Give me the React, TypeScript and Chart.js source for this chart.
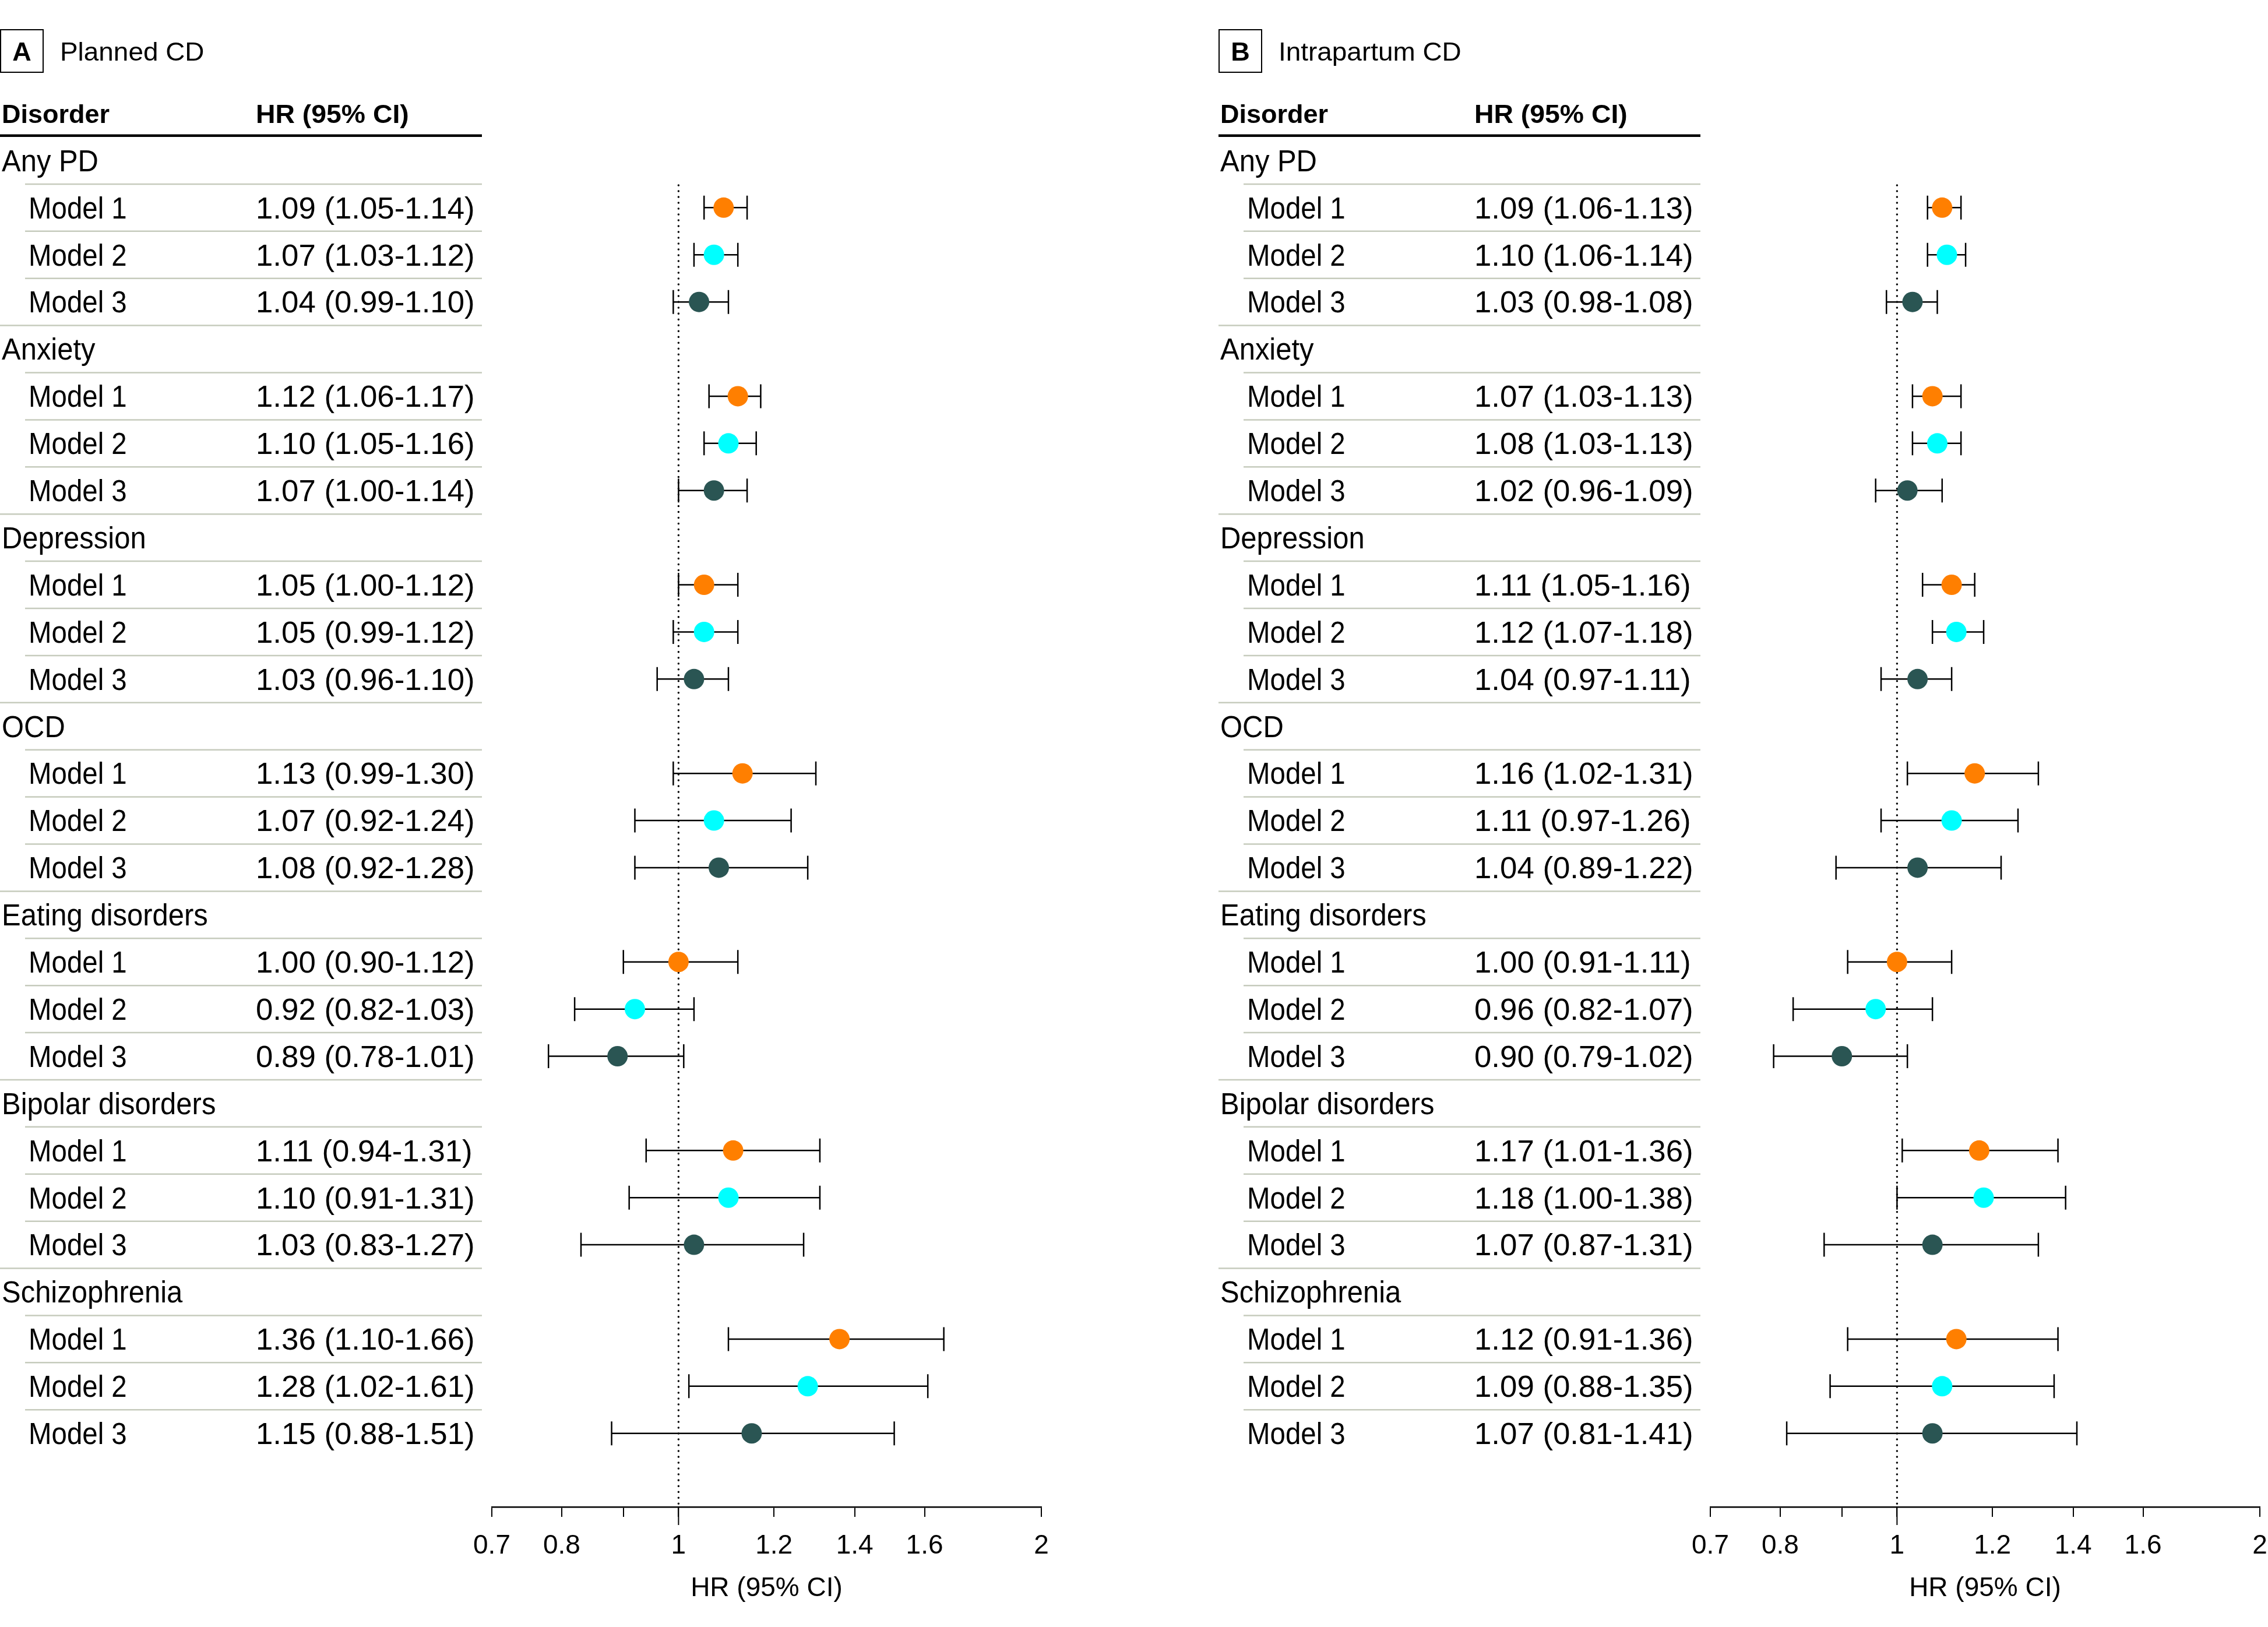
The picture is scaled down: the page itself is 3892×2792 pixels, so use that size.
import React, { useEffect, useRef } from 'react';
import { Chart, registerables } from 'chart.js';

Chart.register(...registerables);

// ---------- data ----------
const categories = ['Any PD', 'Anxiety', 'Depression', 'OCD', 'Eating disorders', 'Bipolar disorders', 'Schizophrenia'];
const models = ['Model 1', 'Model 2', 'Model 3'];
const modelColors = ['#FF7F00', '#00FFFF', '#2A5553'];

const plannedHR = [
  [1.09, 1.07, 1.04],
  [1.12, 1.10, 1.07],
  [1.05, 1.05, 1.03],
  [1.13, 1.07, 1.08],
  [1.00, 0.92, 0.89],
  [1.11, 1.10, 1.03],
  [1.36, 1.28, 1.15],
];
const plannedLo = [
  [1.05, 1.03, 0.99],
  [1.06, 1.05, 1.00],
  [1.00, 0.99, 0.96],
  [0.99, 0.92, 0.92],
  [0.90, 0.82, 0.78],
  [0.94, 0.91, 0.83],
  [1.10, 1.02, 0.88],
];
const plannedHi = [
  [1.14, 1.12, 1.10],
  [1.17, 1.16, 1.14],
  [1.12, 1.12, 1.10],
  [1.30, 1.24, 1.28],
  [1.12, 1.03, 1.01],
  [1.31, 1.31, 1.27],
  [1.66, 1.61, 1.51],
];

const intraHR = [
  [1.09, 1.10, 1.03],
  [1.07, 1.08, 1.02],
  [1.11, 1.12, 1.04],
  [1.16, 1.11, 1.04],
  [1.00, 0.96, 0.90],
  [1.17, 1.18, 1.07],
  [1.12, 1.09, 1.07],
];
const intraLo = [
  [1.06, 1.06, 0.98],
  [1.03, 1.03, 0.96],
  [1.05, 1.07, 0.97],
  [1.02, 0.97, 0.89],
  [0.91, 0.82, 0.79],
  [1.01, 1.00, 0.87],
  [0.91, 0.88, 0.81],
];
const intraHi = [
  [1.13, 1.14, 1.08],
  [1.13, 1.13, 1.09],
  [1.16, 1.18, 1.11],
  [1.31, 1.26, 1.22],
  [1.11, 1.07, 1.02],
  [1.36, 1.38, 1.31],
  [1.36, 1.35, 1.41],
];

const tickValues = [0.7, 0.8, 0.9, 1, 1.2, 1.4, 1.6, 2];
const tickLabels = ['0.7', '0.8', '', '1', '1.2', '1.4', '1.6', '2'];
const axisTitle = 'HR (95% CI)';
const headerLabels = ['Disorder', 'HR (95% CI)'];

// ---------- layout ----------
const W = 3892;
const H = 2792;
const PANEL_OFFSET = 2091;
const CANVAS_W = 2091;
const FAMILY = '"Liberation Sans", Arial, sans-serif';
const font = (weight: string, size: number) => `${weight} ${size}px ${FAMILY}`;

function drawScaled(ctx: CanvasRenderingContext2D, text: string, x: number, y: number, sx: number) {
  ctx.save();
  ctx.translate(x, y);
  ctx.scale(sx, 1);
  ctx.fillText(text, 0, 0);
  ctx.restore();
}

type PanelProps = {
  letter: string;
  title: string;
  hr: number[][];
  lo: number[][];
  hi: number[][];
  left: number;
  width: number;
};

function Panel({ letter, title, hr, lo, hi, left, width }: PanelProps) {
  const ref = useRef<HTMLCanvasElement>(null);

  useEffect(() => {
    const canvas = ref.current!;
    const rowOf = (i: number, j: number) => i * 4 + j + 1;

    const datasets = models.map((m, j) => ({
      label: m,
      data: categories.map((_, i) => ({ x: hr[i][j], y: rowOf(i, j) })),
      backgroundColor: modelColors[j],
      pointBackgroundColor: modelColors[j],
      pointBorderWidth: 0,
      pointRadius: 17.5,
      pointHoverRadius: 17.5,
      showLine: false,
    }));

    const forestPlugin = {
      id: 'forest',
      beforeDatasetsDraw(chart: any) {
        const { ctx, chartArea } = chart;
        const x = chart.scales.x;
        const y = chart.scales.y;
        const x1 = x.getPixelForValue(1);
        ctx.save();
        // dotted reference line
        ctx.strokeStyle = '#000';
        ctx.lineWidth = 3.5;
        ctx.lineCap = 'round';
        ctx.setLineDash([0.01, 10]);
        ctx.beginPath();
        ctx.moveTo(x1, y.getPixelForValue(0.5) + 2);
        ctx.lineTo(x1, chartArea.bottom - 4);
        ctx.stroke();
        ctx.setLineDash([]);
        ctx.lineCap = 'butt';
        ctx.lineWidth = 2;
        ctx.beginPath();
        ctx.moveTo(x1, chartArea.bottom);
        ctx.lineTo(x1, chartArea.bottom + 31);
        ctx.stroke();
        // error bars
        ctx.lineWidth = 2.5;
        categories.forEach((_, i) => {
          models.forEach((__, j) => {
            const yy = y.getPixelForValue(rowOf(i, j));
            const xl = x.getPixelForValue(lo[i][j]);
            const xh = x.getPixelForValue(hi[i][j]);
            ctx.beginPath();
            ctx.moveTo(xl, yy);
            ctx.lineTo(xh, yy);
            ctx.moveTo(xl, yy - 20.5);
            ctx.lineTo(xl, yy + 20.5);
            ctx.moveTo(xh, yy - 20.5);
            ctx.lineTo(xh, yy + 20.5);
            ctx.stroke();
          });
        });
        ctx.restore();
      },
      afterDraw(chart: any) {
        const { ctx } = chart;
        const y = chart.scales.y;
        ctx.save();
        ctx.fillStyle = '#000';
        ctx.strokeStyle = '#000';
        ctx.textBaseline = 'alphabetic';
        // panel letter box + title
        ctx.lineWidth = 2;
        ctx.strokeRect(1, 51, 73, 73);
        ctx.font = font('bold', 45);
        ctx.textAlign = 'center';
        ctx.fillText(letter, 37.5, 103.5);
        ctx.textAlign = 'left';
        ctx.font = font('normal', 45);
        drawScaled(ctx, title, 103, 103.5, 1.02);
        // header
        ctx.font = font('bold', 45);
        ctx.fillText(headerLabels[0], 3, 211);
        drawScaled(ctx, headerLabels[1], 439, 211, 1.03);
        const top = y.getPixelForValue(-0.5);
        ctx.fillRect(0, top - 4.5, 827, 4.5);
        // separators
        ctx.strokeStyle = '#C6CBBD';
        ctx.lineWidth = 2.5;
        for (let r = 1; r < categories.length * 4; r++) {
          const yy = y.getPixelForValue(r - 0.5);
          const x0 = r % 4 === 0 ? 0 : 43;
          ctx.beginPath();
          ctx.moveTo(x0, yy);
          ctx.lineTo(827, yy);
          ctx.stroke();
        }
        // rows
        ctx.font = font('normal', 51);
        categories.forEach((c, i) => {
          const r = i * 4;
          drawScaled(ctx, c, 3, y.getPixelForValue(r) + 18.3, 0.96);
          models.forEach((m, j) => {
            const yy = y.getPixelForValue(rowOf(i, j)) + 18.3;
            drawScaled(ctx, m, 49, yy, 0.93);
            const txt = `${hr[i][j].toFixed(2)} (${lo[i][j].toFixed(2)}-${hi[i][j].toFixed(2)})`;
            drawScaled(ctx, txt, 439, yy, 1.035);
          });
        });
        ctx.restore();
      },
    };

    const chart = new Chart(canvas, {
      type: 'scatter',
      data: { datasets },
      options: {
        responsive: false,
        animation: false,
        events: [],
        layout: { padding: { left: 844, right: width - 1787, top: 235, bottom: 0 } },
        plugins: { legend: { display: false }, tooltip: { enabled: false } },
        scales: {
          x: {
            type: 'logarithmic',
            position: 'bottom',
            min: 0.7,
            max: 2,
            afterBuildTicks: (s: any) => {
              s.ticks = tickValues.map((v) => ({ value: v }));
            },
            afterFit: (s: any) => {
              s.height = 206;
            },
            ticks: {
              autoSkip: false,
              maxRotation: 0,
              minRotation: 0,
              padding: 23,
              color: '#000',
              font: { family: FAMILY, size: 46 },
              callback: (v: any) => {
                const k = tickValues.indexOf(Number(v));
                return k >= 0 ? tickLabels[k] : '';
              },
            },
            grid: { drawOnChartArea: false, drawTicks: true, tickLength: 17, color: '#000', lineWidth: 2 },
            border: { display: true, color: '#000', width: 2.5 },
            title: {
              display: true,
              text: axisTitle,
              color: '#000',
              font: { family: FAMILY, size: 46 },
              padding: { top: 0, bottom: 38 },
            },
          },
          y: { type: 'linear', display: false, reverse: true, min: -0.5, max: 28.561 },
        },
      } as any,
      plugins: [forestPlugin],
    });
    return () => chart.destroy();
  }, []);

  return <canvas ref={ref} width={width} height={H} style={{ position: 'absolute', left, top: 0 }} />;
}

export default function App() {
  return (
    <div style={{ position: 'absolute', left: 0, top: 0, width: W, height: H, background: '#fff', overflow: 'hidden' }}>
      <Panel letter="A" title="Planned CD" hr={plannedHR} lo={plannedLo} hi={plannedHi} left={0} width={CANVAS_W} />
      <Panel letter="B" title="Intrapartum CD" hr={intraHR} lo={intraLo} hi={intraHi} left={PANEL_OFFSET} width={CANVAS_W} />
    </div>
  );
}
